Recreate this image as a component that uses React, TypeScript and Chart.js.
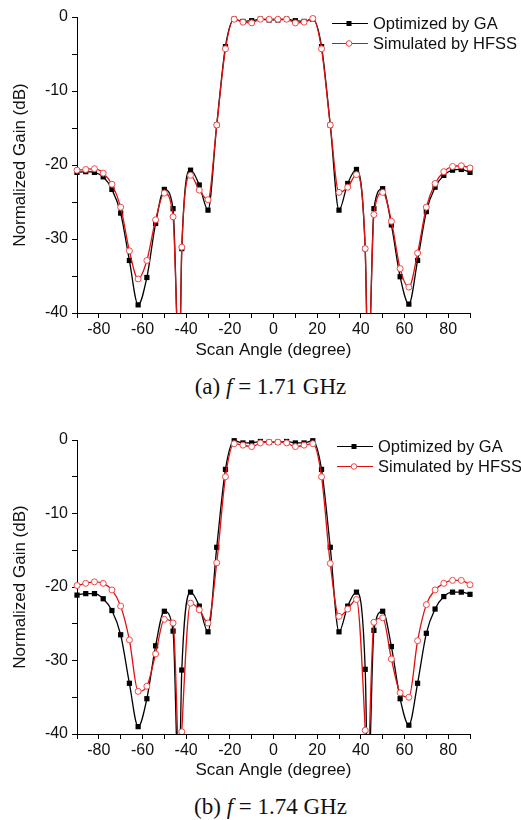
import React, { useEffect, useRef } from 'react';
import { Chart, registerables } from 'chart.js';
Chart.register(...registerables);

// Scan angles (degree) where the markers sit
const ANGLES = [-90, -86, -82, -78, -74, -70, -66, -62, -58, -54, -50, -46, -42, -38, -34, -30, -26, -22, -18, -14, -10, -6, -2,
  2, 6, 10, 14, 18, 22, 26, 30, 34, 38, 42, 46, 50, 54, 58, 62, 66, 70, 74, 78, 82, 86, 90];

// (a) f = 1.71 GHz
const GA_A = [-21.0, -20.9, -21.0, -21.6, -23.3, -26.5, -32.9, -38.9, -35.2, -27.9, -23.3, -25.9, -31.3, -20.7, -22.7, -26.1, -14.6, -4.0, -0.3, -0.6, -0.5, -0.3, -0.4,
  -0.4, -0.3, -0.5, -0.6, -0.3, -4.0, -14.6, -26.1, -22.5, -20.6, -31.3, -25.9, -23.2, -28.1, -35.1, -38.8, -32.9, -26.3, -23.0, -21.4, -20.7, -20.6, -21.0];
const HFSS_A = [-20.7, -20.6, -20.5, -21.1, -22.6, -25.7, -31.6, -35.4, -32.9, -27.4, -23.8, -27.0, -31.1, -21.4, -23.4, -24.7, -14.6, -4.3, -0.3, -0.7, -0.8, -0.3, -0.3,
  -0.3, -0.3, -0.8, -0.7, -0.2, -4.3, -14.6, -23.7, -23.0, -21.3, -31.3, -26.7, -23.7, -27.6, -34.0, -36.5, -31.9, -25.7, -22.5, -20.9, -20.2, -20.1, -20.4];
// deep nulls (below the axis) read between markers
const NULLS_GA_A = [[-43.2, -48], [43.4, -48]];
const NULLS_HFSS_A = [[-43.1, -48], [43.3, -48]];

// (b) f = 1.74 GHz
const GA_B = [-21.1, -20.9, -20.9, -21.6, -23.2, -26.5, -33.1, -39.0, -35.2, -28.0, -23.3, -26.0, -31.3, -20.7, -22.6, -26.1, -14.6, -4.0, -0.1, -0.4, -0.4, -0.2, -0.3,
  -0.3, -0.2, -0.4, -0.4, -0.1, -4.0, -14.6, -26.1, -22.6, -20.7, -31.2, -25.9, -23.3, -28.1, -35.2, -38.8, -33.1, -26.3, -23.0, -21.3, -20.7, -20.7, -21.0];
const HFSS_B = [-19.8, -19.5, -19.3, -19.5, -20.4, -22.6, -27.2, -34.2, -33.5, -29.1, -24.4, -24.9, -39.7, -22.2, -23.1, -24.9, -16.7, -5.0, -0.5, -0.7, -0.9, -0.4, -0.3,
  -0.3, -0.4, -0.9, -0.7, -0.5, -5.0, -16.8, -24.0, -23.0, -21.7, -39.5, -24.8, -24.2, -29.8, -34.4, -35.0, -27.3, -22.4, -20.4, -19.5, -19.1, -19.1, -19.7];
const NULLS_GA_B = [[-43.4, -48], [43.3, -48]];
const NULLS_HFSS_B = [[-42.8, -46], [42.8, -46]];

const X_TICK_LABELS = [-80, -60, -40, -20, 0, 20, 40, 60, 80];
const Y_TICK_LABELS = [0, -10, -20, -30, -40];
const SERIES_NAMES = ['Optimized by GA', 'Simulated by HFSS'];

const FONT = '"Liberation Sans", Arial, Helvetica, sans-serif';
const GA_COLOR = '#000000';
const HFSS_COLOR = '#e01010';
const HFSS_MARK = '#f04848';

function build(values: number[], nulls: number[][]) {
  const pts = ANGLES.map((a, i) => ({ x: a, y: values[i], m: true }));
  nulls.forEach(([x, y]) => pts.push({ x, y, m: false }));
  pts.sort((p, q) => p.x - q.x);
  return pts;
}

type PanelProps = {
  areaTop: number;
  areaBottom: number;
  ga: number[];
  hfss: number[];
  gaNulls: number[][];
  hfssNulls: number[][];
  legendX: number;
  titlePadBottom: number;
};

function Panel(props: PanelProps) {
  const ref = useRef<HTMLCanvasElement | null>(null);
  const canvasTop = props.areaTop - 17;
  const height = props.areaBottom - canvasTop + 59;

  useEffect(() => {
    const canvas = ref.current!;
    const legendX = props.legendX;
    const legendPlugin = {
      id: 'customLegend',
      afterDraw(chart: any) {
        const ctx = chart.ctx;
        const top = chart.chartArea.top;
        const rows = [
          { y: top + 6.5, color: GA_COLOR, kind: 'rect', name: SERIES_NAMES[0] },
          { y: top + 26.5, color: HFSS_COLOR, kind: 'circle', name: SERIES_NAMES[1] },
        ];
        ctx.save();
        rows.forEach((r) => {
          ctx.strokeStyle = r.color;
          ctx.lineWidth = 1.2;
          ctx.beginPath();
          ctx.moveTo(legendX, r.y);
          ctx.lineTo(legendX + 36, r.y);
          ctx.stroke();
          const mx = legendX + 17;
          if (r.kind === 'rect') {
            ctx.fillStyle = GA_COLOR;
            ctx.fillRect(mx - 2.5, r.y - 2.5, 5, 5);
          } else {
            ctx.beginPath();
            ctx.arc(mx, r.y, 2.8, 0, Math.PI * 2);
            ctx.fillStyle = '#fff';
            ctx.fill();
            ctx.strokeStyle = HFSS_MARK;
            ctx.lineWidth = 1;
            ctx.stroke();
          }
          ctx.fillStyle = '#111';
          ctx.font = `16.5px ${FONT}`;
          ctx.textBaseline = 'middle';
          ctx.textAlign = 'left';
          ctx.fillText(r.name, legendX + 41, r.y + 1);
        });
        ctx.restore();
      },
    };

    const chart = new Chart(canvas, {
      type: 'line',
      data: {
        datasets: [
          {
            label: SERIES_NAMES[0],
            data: build(props.ga, props.gaNulls) as any,
            borderColor: GA_COLOR,
            borderWidth: 1.3,
            cubicInterpolationMode: 'monotone',
            pointStyle: 'rect',
            pointRadius: (c: any) => (c.raw && c.raw.m ? 3.7 : 0),
            pointBackgroundColor: GA_COLOR,
            pointBorderColor: GA_COLOR,
            pointBorderWidth: 0,
            clip: { left: 6, right: 6, top: 6, bottom: 0 } as any,
            order: 1,
          },
          {
            label: SERIES_NAMES[1],
            data: build(props.hfss, props.hfssNulls) as any,
            borderColor: HFSS_COLOR,
            borderWidth: 1.3,
            cubicInterpolationMode: 'monotone',
            pointStyle: 'circle',
            pointRadius: (c: any) => (c.raw && c.raw.m ? 3.0 : 0),
            pointBackgroundColor: '#ffffff',
            pointBorderColor: HFSS_MARK,
            pointBorderWidth: 1,
            clip: { left: 6, right: 6, top: 6, bottom: 0 } as any,
            order: 0,
          },
        ],
      },
      options: {
        animation: false,
        responsive: false,
        events: [],
        layout: { padding: { top: 17, left: 0, right: 51, bottom: 0 } },
        plugins: { legend: { display: false }, tooltip: { enabled: false } },
        scales: {
          x: {
            type: 'linear',
            min: -90,
            max: 90,
            ticks: {
              stepSize: 10,
              autoSkip: false,
              maxRotation: 0,
              padding: 2,
              color: '#111',
              font: { family: FONT, size: 16 },
              callback: (v: any) => (X_TICK_LABELS.includes(Number(v)) ? String(v) : ''),
            },
            grid: { drawOnChartArea: false, drawTicks: true, tickLength: 5, tickColor: '#000' },
            border: { display: true, color: '#000', width: 1 },
            title: {
              display: true,
              text: 'Scan Angle (degree)',
              color: '#111',
              font: { family: FONT, size: 17 },
              padding: { top: 0, bottom: props.titlePadBottom },
            },
            afterFit: (s: any) => {
              s.height = 59;
            },
          },
          y: {
            type: 'linear',
            min: -40,
            max: 0,
            ticks: {
              stepSize: 5,
              autoSkip: false,
              padding: 4,
              color: '#111',
              font: { family: FONT, size: 16 },
              callback: (v: any) => (Y_TICK_LABELS.includes(Number(v)) ? String(v) : ''),
            },
            grid: { drawOnChartArea: false, drawTicks: true, tickLength: 5, tickColor: '#000' },
            border: { display: true, color: '#000', width: 1 },
            title: {
              display: true,
              text: 'Normalized Gain (dB)',
              color: '#111',
              font: { family: FONT, size: 17 },
              padding: { top: 10, bottom: 0 },
            },
            afterFit: (s: any) => {
              s.width = 77;
            },
          },
        },
      } as any,
      plugins: [legendPlugin],
    });
    return () => chart.destroy();
  }, []);

  return (
    <canvas
      ref={ref}
      width={521}
      height={height}
      style={{ position: 'absolute', left: 0, top: canvasTop, width: 521, height }}
    />
  );
}

function Caption(props: { top: number; label: string; value: string }) {
  return (
    <div
      style={{
        position: 'absolute',
        left: 0,
        top: props.top,
        width: 541,
        textAlign: 'center',
        fontFamily: '"Liberation Serif", "Times New Roman", serif',
        fontSize: 23,
        lineHeight: '23px',
        color: '#111',
        whiteSpace: 'nowrap',
      }}
    >
      {props.label} <i>f</i> = {props.value}
    </div>
  );
}

export default function App() {
  return (
    <div style={{ position: 'absolute', left: 0, top: 0, width: 521, height: 820, background: '#fff' }}>
      <Panel areaTop={17} areaBottom={313} ga={GA_A} hfss={HFSS_A} gaNulls={NULLS_GA_A} hfssNulls={NULLS_HFSS_A} legendX={332} titlePadBottom={11} />
      <Caption top={375} label="(a)" value="1.71 GHz" />
      <Panel areaTop={440} areaBottom={734} ga={GA_B} hfss={HFSS_B} gaNulls={NULLS_GA_B} hfssNulls={NULLS_HFSS_B} legendX={337} titlePadBottom={12} />
      <Caption top={795} label="(b)" value="1.74 GHz" />
    </div>
  );
}
